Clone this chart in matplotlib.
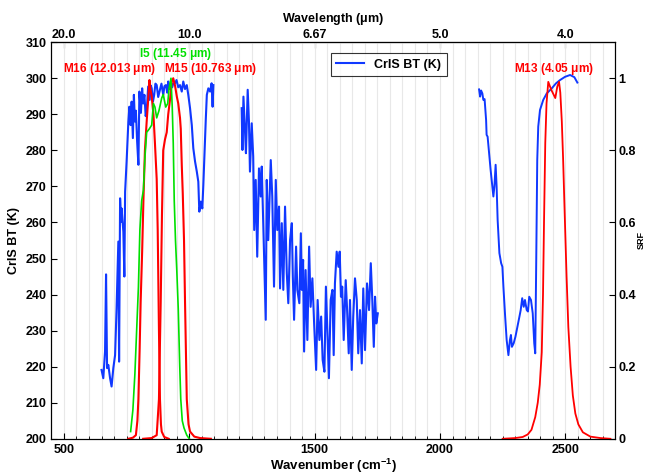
import matplotlib
matplotlib.use("Agg")
import matplotlib.pyplot as plt
from matplotlib.ticker import MultipleLocator

plt.rcParams["font.family"] = ["Liberation Sans", "DejaVu Sans"]
plt.rcParams["font.weight"] = "bold"
plt.rcParams["mathtext.default"] = "regular"

# CrIS brightness temperature, three bands (wavenumber cm-1, BT K)
lw_wn = [650, 657, 664, 668, 672, 677, 684, 690, 697, 704, 710, 717, 720, 724, 728, 730,
         737, 741, 744, 750, 757, 761, 766, 770, 775, 779, 783, 787, 792, 797, 801, 807,
         812, 816, 821, 826, 830, 836, 842, 846, 850, 855, 860, 865, 870, 876, 883, 889,
         896, 901, 907, 912, 916, 921, 927, 932, 936, 943, 949, 956, 963, 970, 976, 983,
         990, 996, 1003, 1010, 1016, 1023, 1030, 1036, 1040, 1046, 1052, 1056, 1060, 1066,
         1070, 1076, 1083, 1089, 1093, 1096]
lw_bt = [219.1, 216.8, 224.2, 245.6, 219.6, 220.5, 216.8, 214.5, 219.6, 223.2, 236.2, 254.7,
         221.4, 266.7, 260.2, 263.9, 257.4, 245.0, 268.5, 276.9, 288.0, 292.1, 287.0, 293.5,
         283.4, 295.4, 288.0, 291.0, 282.4, 276.0, 296.3, 290.4, 297.2, 293.0, 295.4, 289.5,
         290.7, 297.7, 294.0, 298.0, 297.2, 293.5, 295.4, 298.5, 298.1, 294.8, 296.8, 298.5,
         295.4, 297.8, 298.1, 296.0, 299.1, 297.0, 298.6, 297.5, 298.6, 298.6, 299.5, 297.5,
         298.1, 296.3, 299.1, 297.0, 298.1, 295.4, 291.7, 287.0, 280.6, 276.9, 274.1, 271.3,
         263.0, 265.8, 263.9, 270.4, 277.8, 288.9, 295.4, 297.2, 296.3, 298.6, 292.1, 298.1]

mw_wn = [1209, 1212, 1216, 1222, 1226, 1233, 1238, 1242, 1249, 1255, 1259, 1265, 1271, 1278,
         1285, 1289, 1295, 1305, 1309, 1315, 1325, 1331, 1338, 1345, 1351, 1358, 1362, 1369,
         1375, 1382, 1389, 1395, 1402, 1409, 1413, 1418, 1426, 1431, 1439, 1445, 1449, 1454,
         1458, 1464, 1471, 1478, 1484, 1491, 1498, 1506, 1512, 1519, 1526, 1532, 1539, 1545,
         1552, 1557, 1564, 1571, 1576, 1581, 1588, 1595, 1600, 1605, 1610, 1616, 1624, 1629,
         1636, 1641, 1648, 1654, 1661, 1668, 1674, 1681, 1688, 1694, 1701, 1709, 1717, 1724,
         1730, 1736, 1741, 1746, 1752]
mw_bt = [291.7, 280.1, 294.9, 285.7, 279.2, 296.8, 288.0, 274.1, 287.5, 278.3, 257.9, 271.8,
         250.5, 275.0, 267.2, 275.5, 259.8, 233.0, 271.8, 255.1, 277.3, 267.2, 242.2, 271.8,
         257.9, 264.4, 241.7, 259.8, 241.3, 264.4, 245.9, 237.6, 255.1, 259.8, 245.0, 233.0,
         253.3, 241.3, 237.6, 257.0, 241.3, 249.6, 224.2, 246.8, 227.4, 253.3, 236.6, 244.5,
         232.0, 219.1, 238.5, 227.4, 233.9, 221.9, 218.6, 242.2, 227.4, 216.8, 238.5, 241.3,
         223.2, 243.1, 251.9, 247.7, 251.9, 239.4, 242.2, 227.4, 244.0, 236.6, 223.7, 238.5,
         219.1, 233.9, 244.5, 238.5, 223.7, 235.7, 220.9, 241.7, 224.6, 243.1, 235.7, 248.7,
         238.5, 225.5, 239.4, 232.0, 234.8]

sw_wn = [2156, 2160, 2164, 2169, 2173, 2178, 2184, 2186, 2190, 2196, 2202, 2209, 2213, 2217,
         2222, 2226, 2230, 2237, 2244, 2249, 2253, 2260, 2266, 2273, 2279, 2283, 2287, 2294,
         2301, 2309, 2317, 2322, 2328, 2334, 2339, 2346, 2351, 2356, 2363, 2370, 2376, 2380,
         2384, 2388, 2392, 2399, 2412, 2426, 2446, 2463, 2479, 2499, 2519, 2536, 2548]
sw_bt = [296.9, 294.9, 296.6, 295.8, 294.0, 294.2, 288.4, 284.3, 283.8, 279.2, 274.6, 269.9,
         267.2, 269.9, 276.0, 269.9, 260.7, 251.5, 248.7, 247.7, 242.2, 233.9, 227.4, 223.2,
         227.4, 228.8, 225.5, 226.5, 228.3, 231.1, 233.9, 235.7, 239.0, 236.6, 238.5, 235.7,
         235.3, 239.4, 238.5, 234.8, 226.5, 223.7, 249.6, 277.3, 286.6, 291.2, 294.0, 295.8,
         297.2, 298.6, 299.5, 300.4, 300.9, 300.3, 298.8]

# VIIRS spectral response functions
m16_wn = [757, 775, 787, 793, 797, 802, 806, 812, 817, 823, 830, 836, 841, 845, 850, 857,
          863, 870, 874, 879, 883, 887, 890, 900, 918]
m16_srf = [0, 0.003, 0.01, 0.05, 0.11, 0.25, 0.38, 0.52, 0.66, 0.8, 0.88, 0.94, 0.995, 0.97,
           0.95, 0.9, 0.82, 0.72, 0.58, 0.3, 0.11, 0.04, 0.02, 0.005, 0]

m15_wn = [816, 850, 870, 879, 886, 891, 896, 903, 910, 916, 923, 930, 936, 943, 950, 956,
          963, 966, 970, 974, 979, 983, 990, 997, 1003, 1020, 1043, 1086]
m15_srf = [0, 0.002, 0.01, 0.11, 0.38, 0.62, 0.8, 0.83, 0.85, 0.9, 0.94, 0.99, 1.0, 0.98,
           0.95, 0.93, 0.89, 0.86, 0.76, 0.68, 0.55, 0.38, 0.11, 0.04, 0.02, 0.006, 0.002, 0]

i5_wn = [766, 775, 783, 790, 797, 803, 810, 817, 823, 830, 841, 850, 857, 863, 870, 879,
         890, 896, 906, 914, 919, 927, 932, 936, 940, 945, 950, 956, 962, 966, 972, 979,
         990, 1000]
i5_srf = [0.02, 0.08, 0.18, 0.3, 0.42, 0.58, 0.66, 0.69, 0.78, 0.85, 0.86, 0.87, 0.93, 0.92,
          0.89, 0.91, 0.945, 0.955, 0.92, 0.93, 0.97, 1.0, 0.92, 0.82, 0.66, 0.55, 0.47, 0.36,
          0.2, 0.11, 0.05, 0.03, 0.01, 0]

m13_wn = [2250, 2300, 2330, 2350, 2365, 2380, 2390, 2398, 2406, 2411, 2415, 2420, 2425, 2432,
          2440, 2446, 2453, 2460, 2468, 2475, 2480, 2486, 2491, 2496, 2505, 2512, 2521, 2530,
          2540, 2552, 2570, 2600, 2640, 2680]
m13_srf = [0, 0.002, 0.005, 0.012, 0.025, 0.06, 0.1, 0.15, 0.24, 0.4, 0.6, 0.82, 0.93, 0.99,
           0.975, 0.965, 0.955, 0.945, 0.977, 0.99, 0.96, 0.88, 0.78, 0.66, 0.45, 0.31, 0.2,
           0.12, 0.07, 0.04, 0.018, 0.006, 0.002, 0]

top_ticks = [500, 1000, 1500, 2000, 2500]
top_labels = ["20.0", "10.0", "6.67", "5.0", "4.0"]

blue = "#1038ff"
red = "#ff0000"
green = "#00e000"

fig = plt.figure(figsize=(6.45, 4.74), dpi=100)
ax = fig.add_axes([0.0797, 0.0743, 0.8745, 0.8367])

ax.plot(lw_wn, lw_bt, color=blue, lw=1.5, label="CrIS BT (K)")
ax.plot(mw_wn, mw_bt, color=blue, lw=1.5)
ax.plot(sw_wn, sw_bt, color=blue, lw=1.4)

ax.set_xlim(450, 2700)
ax.set_ylim(200, 310)
ax.set_yticks(range(200, 311, 10))
ax.xaxis.set_minor_locator(MultipleLocator(50))
ax.set_xticks([500, 1000, 1500, 2000, 2500])
ax.grid(True, axis="x", which="both", color="#e8e8e8", lw=0.8)
ax.set_axisbelow(True)
ax.tick_params(direction="in", labelsize=9, length=4, right=False)
ax.tick_params(which="minor", direction="in", length=2.5)
ax.set_xlabel("Wavenumber (cm$^{-1}$)", fontsize=9.5, fontweight="bold", labelpad=1)
ax.set_ylabel("CrIS BT (K)", fontsize=9, fontweight="bold", labelpad=4)

leg = ax.legend(loc="upper center", bbox_to_anchor=(0.598, 0.973), borderaxespad=0,
                fontsize=9, frameon=True, fancybox=False, handlelength=2.2,
                borderpad=0.45)
leg.get_frame().set_edgecolor("black")
leg.get_frame().set_linewidth(0.8)

# SRF on the right axis
ax2 = ax.twinx()
ax2.plot(m16_wn, m16_srf, color=red, lw=1.5)
ax2.plot(m15_wn, m15_srf, color=red, lw=1.5)
ax2.plot(i5_wn, i5_srf, color=green, lw=1.2)
ax2.plot(m13_wn, m13_srf, color=red, lw=1.3)
ax2.set_ylim(0, 1.1)
ax2.set_yticks([0, 0.2, 0.4, 0.6, 0.8, 1.0])
ax2.set_yticklabels(["0", "0.2", "0.4", "0.6", "0.8", "1"])
ax2.tick_params(direction="in", labelsize=9, length=4, pad=2)
ax2.set_ylabel("SRF", fontsize=6.5, fontweight="bold", labelpad=1)

# band labels
ax.text(682, 302.5, "M16 (12.013 $\\mu$m)", color=red, fontsize=8.6, ha="center", va="center")
ax.text(945, 306.7, "I5 (11.45 $\\mu$m)", color=green, fontsize=8.6, ha="center", va="center")
ax.text(1085, 302.5, "M15 (10.763 $\\mu$m)", color=red, fontsize=8.6, ha="center", va="center")
ax.text(2455, 302.5, "M13 (4.05 $\\mu$m)", color=red, fontsize=8.6, ha="center", va="center")

# wavelength axis on top
sec = ax.secondary_xaxis("top")
sec.set_xticks(top_ticks)
sec.set_xticklabels(top_labels)
sec.xaxis.set_minor_locator(MultipleLocator(50))
sec.tick_params(direction="in", labelsize=9, length=4, pad=1)
sec.tick_params(which="minor", direction="in", length=2.5)
sec.set_xlabel("Wavelength ($\\mu$m)", fontsize=9, fontweight="bold", labelpad=5)

fig.savefig("out.png", dpi=100)
